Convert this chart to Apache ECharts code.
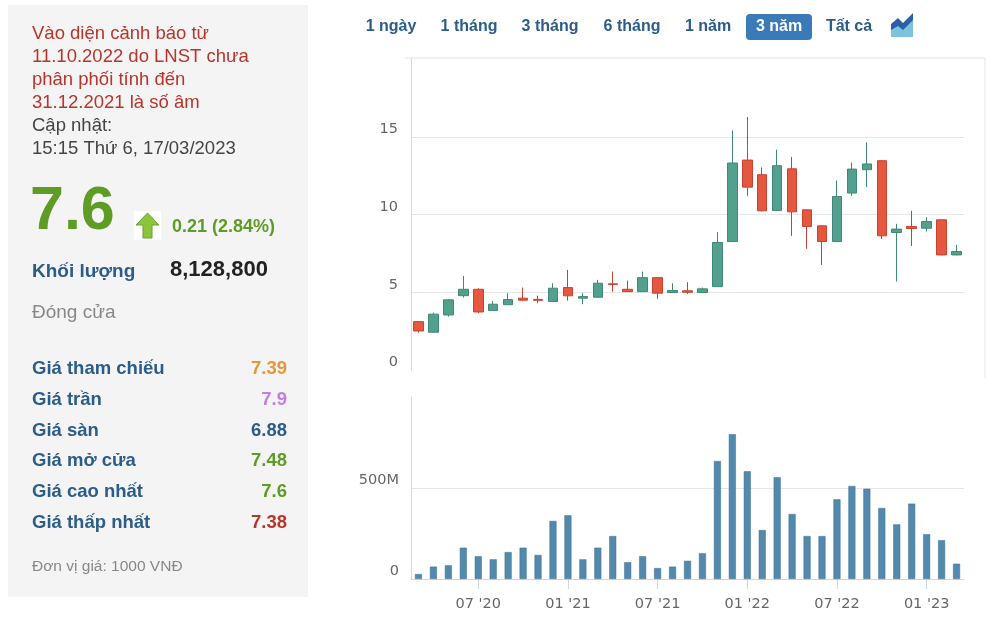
<!DOCTYPE html>
<html>
<head>
<meta charset="utf-8">
<script src="https://cdn.jsdelivr.net/npm/echarts@6/dist/echarts.min.js"></script>
<style>
html,body{margin:0;padding:0;background:#fff;}
#c{width:1000px;height:621px;}
</style>
</head>
<body>
<div id="c"></div>
<script>
// Months Mar 2020 .. Mar 2023
const months = ["03/2020","04/2020","05/2020","06/2020","07/2020","08/2020","09/2020","10/2020","11/2020","12/2020",
  "01/2021","02/2021","03/2021","04/2021","05/2021","06/2021","07/2021","08/2021","09/2021","10/2021","11/2021","12/2021",
  "01/2022","02/2022","03/2022","04/2022","05/2022","06/2022","07/2022","08/2022","09/2022","10/2022","11/2022","12/2022",
  "01/2023","02/2023","03/2023"];
const opens  = [3.11,2.43,3.54,4.78,5.19,3.82,4.20,4.62,4.54,4.40,5.30,4.62,4.68,5.54,5.19,5.04,5.94,4.98,5.09,4.98,5.36,8.26,13.50,12.56,10.26,12.94,10.30,9.27,8.26,11.38,12.88,13.46,8.84,9.23,9.12,9.66,7.40];
const closes = [2.51,3.59,4.51,5.19,3.73,4.23,4.53,4.49,4.48,5.26,4.77,4.72,5.58,5.50,5.04,5.94,4.94,5.11,5.00,5.22,8.20,13.31,11.76,10.24,13.14,10.17,9.23,8.26,11.16,12.92,13.25,8.63,9.06,9.10,9.55,7.40,7.62];
const lows   = [2.40,2.40,3.43,4.66,3.65,3.80,4.18,4.45,4.29,4.38,4.46,4.23,4.65,5.04,5.02,5.02,4.57,4.96,4.89,4.96,5.34,8.24,11.20,10.19,10.24,8.63,7.79,6.76,8.24,11.20,11.76,8.42,5.69,7.98,8.91,7.38,7.38];
const highs  = [3.15,3.69,4.55,6.05,5.25,4.44,4.94,5.30,4.78,5.58,6.44,4.94,5.80,6.33,5.75,6.33,5.98,5.58,5.65,5.30,8.87,15.41,16.27,13.03,14.17,13.70,10.32,9.30,12.19,13.35,14.64,13.50,9.40,10.24,9.83,9.66,8.05];
// volume in millions of shares
const volumes = [27,68,75,172,125,108,148,172,132,319,350,108,172,236,92,125,60,68,100,141,648,795,592,269,559,357,236,236,438,511,496,390,300,414,246,213,84];
const priceTicks = [0,5,10,15,20];
const volTicks = [0,500,1000];

const infoRows = [
  ["Giá tham chiếu","7.39","#e8963a"],
  ["Giá trần","7.9","#c77de0"],
  ["Giá sàn","6.88","#2b5c8a"],
  ["Giá mở cửa","7.48","#5d9c25"],
  ["Giá cao nhất","7.6","#5d9c25"],
  ["Giá thấp nhất","7.38","#b8352b"]
];
const warnLines = ["Vào diện cảnh báo từ","11.10.2022 do LNST chưa","phân phối tính đến","31.12.2021 là số âm"];
const buttons = [["1 ngày",391],["1 tháng",469],["3 tháng",550],["6 tháng",632],["1 năm",708],["3 năm",779],["Tất cả",849]];

const candleData = opens.map((o,i)=>[o,closes[i],lows[i],highs[i]]);
const showTick = (idx, val) => { const m = String(val).slice(0,2); return m==='01'||m==='07'; };
const fmtMonth = v => v.slice(0,2)+" '"+v.slice(5,7);

const F = '"Liberation Sans", Arial, sans-serif';
const G = [];
// left panel background
G.push({type:'rect', shape:{x:8,y:5,width:300,height:592}, style:{fill:'#f4f4f4'}, z:-10});
warnLines.forEach((t,i)=>G.push({type:'text', x:32, y:34+i*23, style:{text:t, font:'18.5px '+F, fill:'#b8352b', verticalAlign:'middle'}}));
G.push({type:'text', x:32, y:126, style:{text:'Cập nhật:', font:'18.5px '+F, fill:'#444', verticalAlign:'middle'}});
G.push({type:'text', x:32, y:149, style:{text:'15:15 Thứ 6, 17/03/2023', font:'18.5px '+F, fill:'#444', verticalAlign:'middle'}});
G.push({type:'text', x:30, y:212, style:{text:'7.6', font:'bold 61px '+F, fill:'#5d9c25', verticalAlign:'middle'}});
G.push({type:'rect', shape:{x:134,y:211,width:27,height:29}, style:{fill:'#fff'}});
G.push({type:'polygon', shape:{points:[[147.5,213],[159,225],[152,225],[152,238],[143,238],[143,225],[136,225]]}, style:{fill:'#8cc43c', stroke:'#6aa22a', lineWidth:1}});
G.push({type:'text', x:172, y:227, style:{text:'0.21 (2.84%)', font:'bold 18px '+F, fill:'#5d9c25', verticalAlign:'middle'}});
G.push({type:'text', x:32, y:272, style:{text:'Khối lượng', font:'bold 19px '+F, fill:'#2b5c8a', verticalAlign:'middle'}});
G.push({type:'text', x:170, y:270, style:{text:'8,128,800', font:'bold 22px '+F, fill:'#222', verticalAlign:'middle'}});
G.push({type:'text', x:32, y:313, style:{text:'Đóng cửa', font:'19px '+F, fill:'#888', verticalAlign:'middle'}});
infoRows.forEach((r,i)=>{
  const y = 369 + i*30.8;
  G.push({type:'text', x:32, y:y, style:{text:r[0], font:'bold 18.5px '+F, fill:'#2b5c8a', verticalAlign:'middle'}});
  G.push({type:'text', x:287, y:y, style:{text:r[1], font:'bold 18.5px '+F, fill:r[2], align:'right', verticalAlign:'middle'}});
});
G.push({type:'text', x:32, y:567, style:{text:'Đơn vị giá: 1000 VNĐ', font:'15.5px '+F, fill:'#888', verticalAlign:'middle'}});
// range buttons
G.push({type:'rect', shape:{x:746,y:14,width:66,height:26,r:4}, style:{fill:'#3a7ab8'}});
buttons.forEach(b=>{
  G.push({type:'text', x:b[1], y:27, style:{text:b[0], font:'bold 16px '+F, fill: b[0]==='3 năm' ? '#fff' : '#2b5c8a', align:'center', verticalAlign:'middle'}});
});
// chart-type icon
G.push({type:'polygon', shape:{points:[[891,37],[891,27],[898,22],[903,27],[913,15],[913,37]]}, style:{fill:'#7cc3dc'}});
G.push({type:'polygon', shape:{points:[[891,30],[891,24],[898,18],[903,23],[913,13],[913,20],[903,30],[898,26]]}, style:{fill:'#2d5ea8'}});
// panel frame lines
G.push({type:'line', shape:{x1:405,y1:58,x2:985,y2:58}, style:{stroke:'#e0e0e0', lineWidth:1}});
G.push({type:'line', shape:{x1:985,y1:58,x2:985,y2:378}, style:{stroke:'#e6e6e6', lineWidth:1}});

const chart = echarts.init(document.getElementById('c'), null, {renderer:'canvas'});
const axisFont = {color:'#666', fontSize:14.5, fontFamily:'"DejaVu Sans", sans-serif'};
chart.setOption({
  animation:false,
  backgroundColor:'#fff',
  graphic: G,
  grid:[
    {left:411, right:36, top:59, height:311},
    {left:411, right:36, top:397, height:182}
  ],
  xAxis:[
    {type:'category', gridIndex:0, data:months, boundaryGap:true,
     axisLine:{show:false}, axisTick:{show:false}, axisLabel:{show:false}},
    {type:'category', gridIndex:1, data:months, boundaryGap:true,
     axisLine:{show:true, lineStyle:{color:'#ccd6eb'}},
     axisTick:{show:true, alignWithLabel:true, interval:showTick, length:10, lineStyle:{color:'#ccd6eb'}},
     axisLabel:{show:true, interval:showTick, formatter:fmtMonth, margin:18, ...axisFont}}
  ],
  yAxis:[
    {type:'value', gridIndex:0, min:priceTicks[0], max:priceTicks[priceTicks.length-1], interval:5,
     axisLine:{show:true, lineStyle:{color:'#d8d8d8'}}, axisTick:{show:false},
     axisLabel:{show:true, showMaxLabel:false, margin:13, verticalAlign:'bottom', ...axisFont},
     splitLine:{show:true, lineStyle:{color:['rgba(0,0,0,0)','#e6e6e6','#e6e6e6','#e6e6e6','rgba(0,0,0,0)'], width:1}}},
    {type:'value', gridIndex:1, min:volTicks[0], max:volTicks[volTicks.length-1], interval:500,
     axisLine:{show:true, lineStyle:{color:'#d8d8d8'}}, axisTick:{show:false},
     axisLabel:{show:true, showMaxLabel:false, margin:12, verticalAlign:'bottom', formatter:v=> v===0?'0':v+'M', ...axisFont},
     splitLine:{show:true, lineStyle:{color:['rgba(0,0,0,0)','#e6e6e6','rgba(0,0,0,0)'], width:1}}}
  ],
  series:[
    {type:'candlestick', xAxisIndex:0, yAxisIndex:0, data:candleData, barWidth:10,
     itemStyle:{color:'#54a08f', color0:'#e5573f', borderColor:'#3f8878', borderColor0:'#c8432f', borderWidth:1}},
    {type:'bar', xAxisIndex:1, yAxisIndex:1, data:volumes, barWidth:7,
     itemStyle:{color:'#5289ac', borderColor:'#3e7090', borderWidth:0.5}}
  ]
});
</script>
</body>
</html>
